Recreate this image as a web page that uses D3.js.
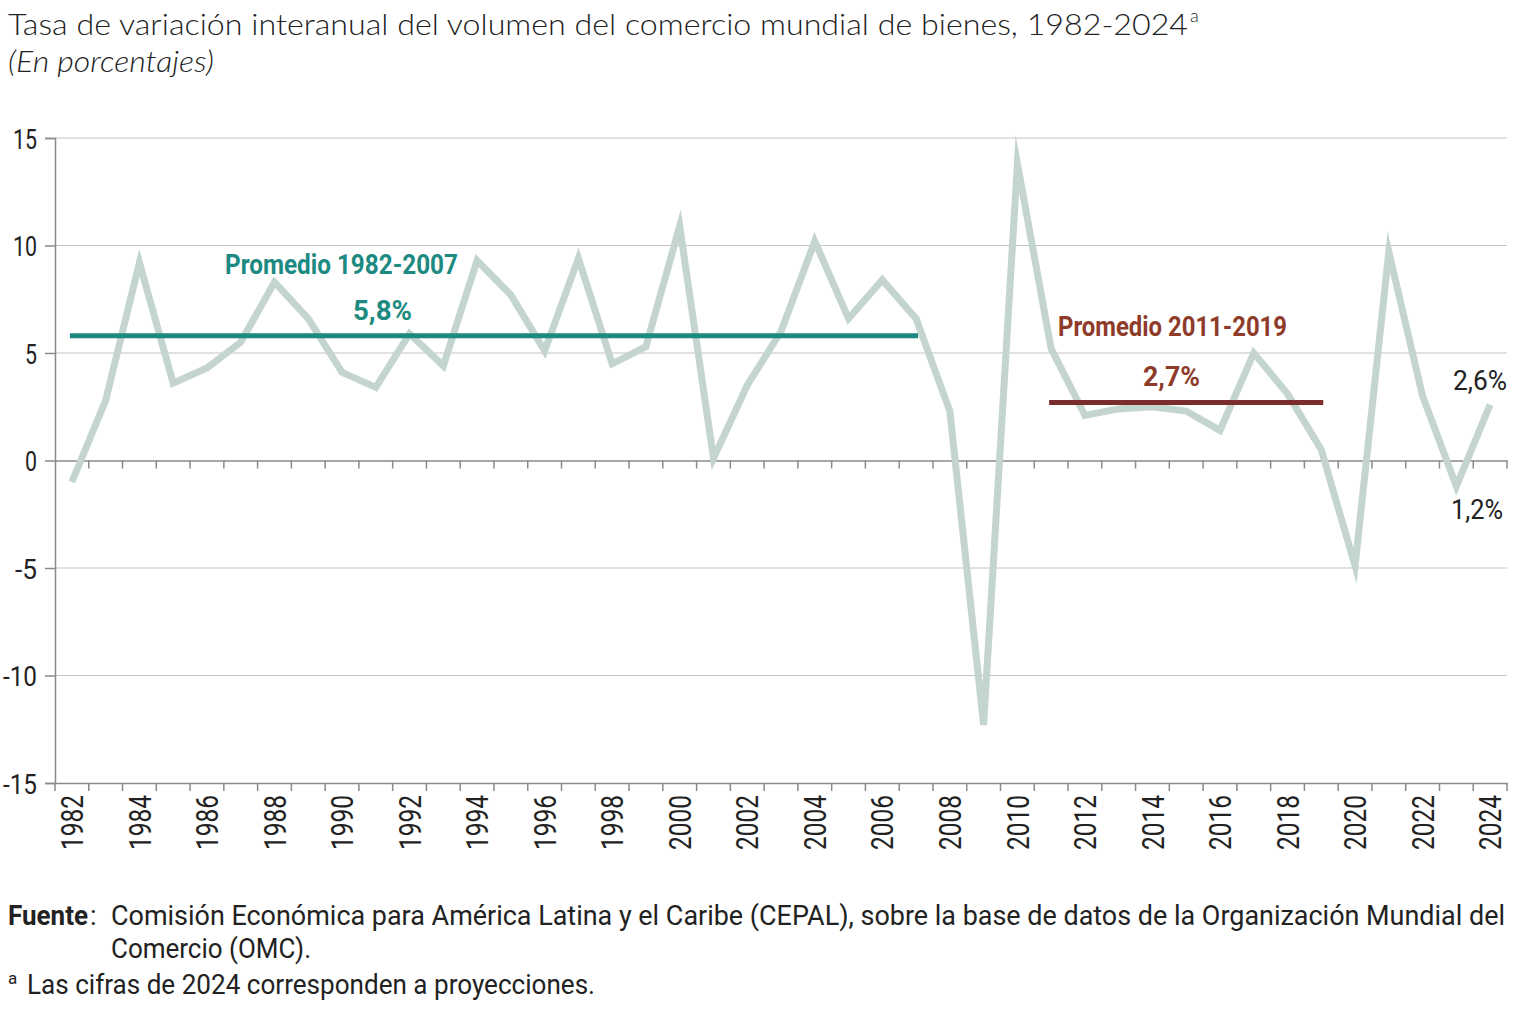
<!DOCTYPE html>
<html><head><meta charset="utf-8">
<script src="https://cdn.jsdelivr.net/npm/d3@7"></script>
<style>body{margin:0;background:#fff}svg{display:block}</style>
</head><body>
<script>
const years = d3.range(1982, 2025);
const values = [-1.0, 2.8, 9.2, 3.6, 4.3, 5.5, 8.3, 6.6, 4.1, 3.4,
  5.9, 4.4, 9.3, 7.7, 5.1, 9.4, 4.5, 5.3, 10.9, 0.1,
  3.5, 6.0, 10.2, 6.6, 8.4, 6.6, 2.3, -12.3, 13.8, 5.2,
  2.1, 2.4, 2.5, 2.3, 1.4, 5.0, 3.1, 0.5, -4.9, 9.7,
  3.0, -1.2, 2.6];
const yTicks = [-15, -10, -5, 0, 5, 10, 15];
const xTickLabels = years.filter(y => y % 2 === 0);
const averages = [
  {from: 1982, to: 2007, value: 5.8, label: "Promedio 1982-2007", valueLabel: "5,8%"},
  {from: 2011, to: 2019, value: 2.7, label: "Promedio 2011-2019", valueLabel: "2,7%"}
];
const endLabels = [{year: 2024, text: "2,6%"}, {year: 2023, text: "1,2%"}];

const W = 1514, H = 1013;
const svg = d3.select("body").append("svg").attr("width", W).attr("height", H);
const x = d3.scaleBand().domain(years).range([55, 1507]).paddingInner(0).paddingOuter(0);
const y = d3.scaleLinear().domain([-15, 15]).range([783, 138]);
const cx = d => x(d) + x.bandwidth() / 2;

const cond = "'Roboto','DejaVu Sans Condensed',sans-serif";
const axisCol = "#8a8a8a";

function fitText(sel, len) {
  return sel.attr("textLength", len).attr("lengthAdjust", "spacingAndGlyphs");
}

// title
fitText(svg.append("text").attr("x", 8).attr("y", 35)
  .attr("font-family", "'Lato','Noto Sans',sans-serif").attr("font-weight", 300).attr("font-size", 30).attr("fill", "#222")
  .text("Tasa de variación interanual del volumen del comercio mundial de bienes, 1982-2024"), 1180);
svg.append("text").attr("x", 1190).attr("y", 22).attr("font-family", "'Lato','Noto Sans',sans-serif")
  .attr("font-weight", 300).attr("font-size", 18).attr("fill", "#222").text("a");
fitText(svg.append("text").attr("x", 8).attr("y", 72)
  .attr("font-family", "'Lato','Noto Sans',sans-serif").attr("font-weight", 300).attr("font-style", "italic").attr("font-size", 29).attr("fill", "#222")
  .text("(En porcentajes)"), 206);

// gridlines
svg.append("g").selectAll("line").data(yTicks.filter(t => t !== 0 && t !== -15)).join("line")
  .attr("x1", 55).attr("x2", 1507).attr("y1", d => y(d)).attr("y2", d => y(d))
  .attr("stroke", "#c4c4c4").attr("stroke-width", 1.2);

// y axis
const yAxis = svg.append("g").attr("transform", "translate(55,0)")
  .call(d3.axisLeft(y).tickValues(yTicks).tickSize(10).tickFormat(d => d));
yAxis.select(".domain").attr("stroke", axisCol).attr("stroke-width", 1.5);
yAxis.selectAll(".tick line").attr("stroke", axisCol).attr("stroke-width", 1.5);
yAxis.selectAll(".tick text").attr("font-family", cond).attr("font-size", 28)
  .attr("fill", "#222").attr("x", -18).attr("dy", "0.36em")
  .attr("textLength", d => String(Math.abs(d)).length * 12 + (d < 0 ? 10 : 0))
  .attr("lengthAdjust", "spacingAndGlyphs");

// zero axis with ticks at band boundaries
const zeroAxis = svg.append("g").attr("transform", `translate(0,${y(0)})`)
  .call(d3.axisBottom(x).tickSize(0).tickFormat(""));
zeroAxis.select(".domain").attr("stroke", axisCol).attr("stroke-width", 1.5);
zeroAxis.selectAll(".tick").remove();
const bounds = years.map(d => x(d)).concat([x.range()[1]]);
svg.append("g").selectAll("line").data(bounds.slice(1)).join("line")
  .attr("x1", d => d).attr("x2", d => d)
  .attr("y1", y(0)).attr("y2", y(0) + 8).attr("stroke", axisCol).attr("stroke-width", 1.5);

// bottom axis
const bAxis = svg.append("g").attr("transform", `translate(0,${y(-15)})`)
  .call(d3.axisBottom(x).tickSize(0).tickFormat(""));
bAxis.select(".domain").attr("stroke", axisCol).attr("stroke-width", 1.5);
bAxis.selectAll(".tick").remove();
svg.append("g").selectAll("line").data(bounds).join("line")
  .attr("x1", d => d).attr("x2", d => d)
  .attr("y1", y(-15)).attr("y2", y(-15) + 8).attr("stroke", axisCol).attr("stroke-width", 1.5);
svg.append("g").selectAll("text").data(xTickLabels).join("text")
  .attr("transform", d => `translate(${cx(d)},${y(-15) + 12}) rotate(-90)`)
  .attr("text-anchor", "end").attr("dy", "0.36em")
  .attr("font-family", cond).attr("font-size", 31).attr("fill", "#222")
  .attr("textLength", 55).attr("lengthAdjust", "spacingAndGlyphs")
  .text(d => d);

// series line
svg.append("path").datum(values)
  .attr("d", d3.line().x((d, i) => cx(years[i])).y(d => y(d)))
  .attr("fill", "none").attr("stroke", "#c3d5ce").attr("stroke-width", 7)
  .attr("stroke-linejoin", "miter").attr("stroke-miterlimit", 10);

// averages
const avgColors = ["#1c8a80", "#7b2d2d"];
const avgText = ["#1c8a80", "#8e3b2a"];
svg.append("g").selectAll("line").data(averages).join("line")
  .attr("x1", d => cx(d.from) - 2).attr("x2", d => cx(d.to) + 2)
  .attr("y1", d => y(d.value)).attr("y2", d => y(d.value))
  .attr("stroke", (d, i) => avgColors[i]).attr("stroke-width", 5);

const labelPos = [
  {lx: 341.5, ly: 274, ll: 233, vx: 382.5, vy: 320, vl: 59},
  {lx: 1172.5, ly: 336, ll: 229, vx: 1171.5, vy: 386, vl: 57}
];
averages.forEach((d, i) => {
  const p = labelPos[i];
  fitText(svg.append("text").attr("x", p.lx).attr("y", p.ly).attr("text-anchor", "middle")
    .attr("font-family", cond).attr("font-weight", "bold").attr("font-size", 28).attr("fill", avgText[i])
    .text(d.label), p.ll);
  fitText(svg.append("text").attr("x", p.vx).attr("y", p.vy).attr("text-anchor", "middle")
    .attr("font-family", cond).attr("font-weight", "bold").attr("font-size", 28).attr("fill", avgText[i])
    .text(d.valueLabel), p.vl);
});

// end labels
fitText(svg.append("text").attr("x", 1453).attr("y", 390)
  .attr("font-family", cond).attr("font-size", 28).attr("fill", "#222").text(endLabels[0].text), 54);
fitText(svg.append("text").attr("x", 1451).attr("y", 519)
  .attr("font-family", cond).attr("font-size", 28).attr("fill", "#222").text(endLabels[1].text), 52);

// footer
const fs = 27;
fitText(svg.append("text").attr("x", 8).attr("y", 925).attr("font-family", cond).attr("font-weight", "bold")
  .attr("font-size", fs).attr("fill", "#222").text("Fuente"), 80);
svg.append("text").attr("x", 90).attr("y", 925).attr("font-family", cond)
  .attr("font-size", fs).attr("fill", "#222").text(":");
fitText(svg.append("text").attr("x", 111).attr("y", 925).attr("font-family", cond).attr("font-size", fs).attr("fill", "#222")
  .text("Comisión Económica para América Latina y el Caribe (CEPAL), sobre la base de datos de la Organización Mundial del"), 1394);
fitText(svg.append("text").attr("x", 111).attr("y", 958).attr("font-family", cond).attr("font-size", fs).attr("fill", "#222")
  .text("Comercio (OMC)."), 200);
svg.append("text").attr("x", 8).attr("y", 984).attr("font-family", cond).attr("font-size", 17).attr("fill", "#222").text("a");
fitText(svg.append("text").attr("x", 27).attr("y", 994).attr("font-family", cond).attr("font-size", fs).attr("fill", "#222")
  .text("Las cifras de 2024 corresponden a proyecciones."), 568);
</script>
</body></html>
